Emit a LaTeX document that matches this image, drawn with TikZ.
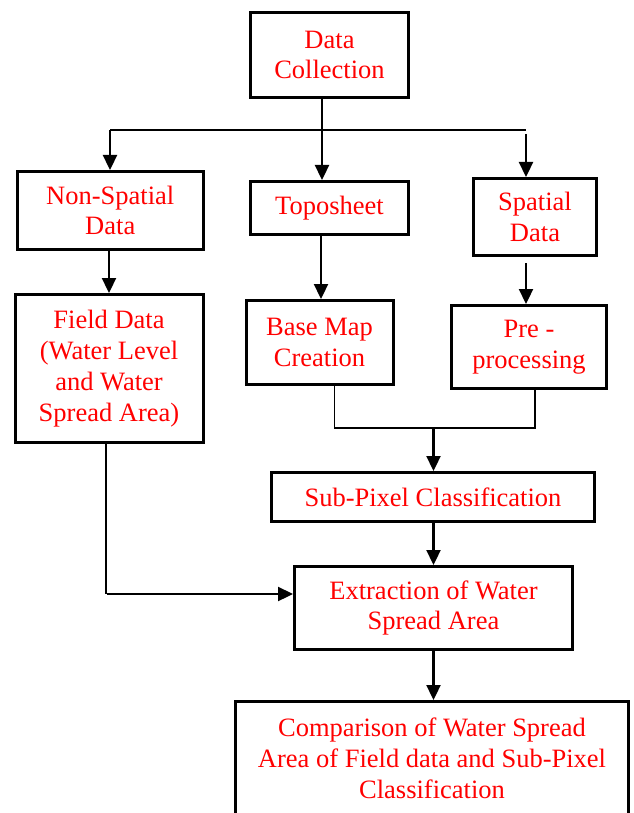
\documentclass[tikz,border=0pt]{standalone}
\usepackage{fontspec}
\setmainfont{Liberation Serif}
\usetikzlibrary{arrows.meta,calc}
\begin{document}
\begin{tikzpicture}[x=1pt,y=-1pt,
  box/.style={draw,line width=3pt,rectangle,inner sep=0pt,align=center,text=red,
    font=\fontsize{26.5}{30.8}\selectfont},
  conn/.style={line width=2.3pt,-{Triangle[length=15pt,width=14pt]}},
  thinl/.style={line width=1.4pt}]
\useasboundingbox (0,0) rectangle (633,813);
\fill[white] (0,0) rectangle (633,813);
\node[box,minimum width=158pt,minimum height=85pt] (dc) at (329.5,55) {Data\\Collection};
\node[box,minimum width=185.5pt,minimum height=78pt] (ns) at (110.25,210.5) {Non-Spatial\\Data};
\node[box,minimum width=158pt,minimum height=53pt] (topo) at (329.5,208) {Toposheet};
\node[box,minimum width=123pt,minimum height=77pt] (sp) at (535,217) {Spatial\\Data};
\node[box,minimum width=188pt,minimum height=148pt] (fd) at (109,368.5) {Field Data\\(Water Level\\and Water\\Spread Area)};
\node[box,minimum width=147pt,minimum height=84pt] (bm) at (319.5,342.5) {Base Map\\Creation};
\node[box,minimum width=155pt,minimum height=83pt] (pre) at (529,347) {Pre -\\processing};
\node[box,minimum width=323pt,minimum height=49pt] (spc) at (433,497) {Sub-Pixel Classification};
\node[box,minimum width=278pt,minimum height=83pt] (ext) at (433.5,608) {Extraction of Water\\Spread Area};
\node[box,minimum width=393pt,minimum height=113pt] (cmp) at (432,758) {Comparison of Water Spread\\Area of Field data and Sub-Pixel\\Classification};
% top distribution
\coordinate (jl) at (110,130);
\coordinate (jr) at (526,130);
\coordinate (jrs) at (526,134);
\coordinate (jc) at (322,0);
\draw[thinl] (jl) -- (jr);
\draw[conn] (jl) -- (jl |- ns.north);
\draw[conn] (jc |- dc.south) -- (jc |- topo.north);
\draw[conn] (jrs) -- (jrs |- sp.north);
% second row
\coordinate (xl) at (109,0);
\coordinate (xc) at (321,0);
\coordinate (xr) at (526,263);
\draw[conn] (xl |- ns.south) -- (xl |- fd.north);
\draw[conn] (xc |- topo.south) -- (xc |- bm.north);
\draw[conn] (xr) -- (xr |- pre.north);
% merge to sub-pixel
\coordinate (mb) at (334.5,428);
\coordinate (mp) at (535,428);
\coordinate (mc) at (433.5,427);
\draw[thinl] (mb |- bm.south) -- (mb) -- (mp) -- (mp |- pre.south);
\draw[conn] (mc) -- (mc |- spc.north);
\draw[conn] (mc |- spc.south) -- (mc |- ext.north);
\draw[conn] (mc |- ext.south) -- (mc |- cmp.north);
% field data to extraction
\coordinate (fl) at (106,594);
\coordinate (fh) at (107,594);
\draw[thinl] (fl |- fd.south) -- (fl);
\draw[conn] (fh) -- (ext.west |- fh);
\end{tikzpicture}
\end{document}
